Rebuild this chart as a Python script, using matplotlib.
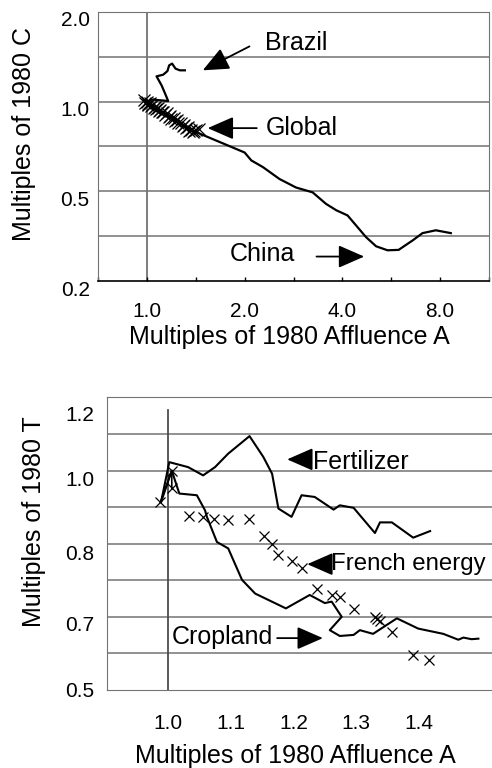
import numpy as np
import matplotlib
matplotlib.use('Agg')
import matplotlib.pyplot as plt
from matplotlib.transforms import ScaledTranslation

plt.rcParams['font.family'] = ['Liberation Sans', 'DejaVu Sans']

#%% Datos panel superior (carbono, C)
brasil_x = [1.0, 1.045, 1.163, 1.136, 1.11, 1.071, 1.123, 1.157, 1.171, 1.196, 1.225, 1.263, 1.309]
brasil_y = [1.0, 1.016, 1.005, 1.069, 1.134, 1.216, 1.232, 1.267, 1.324, 1.342, 1.291, 1.274, 1.274]

global_x = [0.98, 0.99, 1.0, 1.005, 1.01, 1.02, 1.03, 1.04, 1.05, 1.06, 1.07, 1.08, 1.09, 1.10,
            1.11, 1.12, 1.14, 1.15, 1.17, 1.18, 1.19, 1.21, 1.22, 1.24, 1.25, 1.27, 1.29, 1.30,
            1.32, 1.34, 1.35, 1.37, 1.39, 1.40, 1.42, 1.45]
global_y = [1.01, 0.99, 1.0, 0.975, 0.985, 0.99, 0.965, 0.975, 0.955, 0.96, 0.945, 0.95, 0.93, 0.94,
            0.92, 0.925, 0.905, 0.915, 0.89, 0.895, 0.875, 0.88, 0.86, 0.865, 0.845, 0.85, 0.83, 0.835,
            0.815, 0.82, 0.80, 0.805, 0.79, 0.80, 0.805, 0.81]

china_x = [1.0, 1.1, 1.2, 1.3, 1.455, 2.0, 2.097, 2.277, 2.561, 2.88, 3.24, 3.56, 3.83, 4.15,
           4.73, 5.08, 5.51, 5.96, 6.58, 7.06, 7.76, 8.63]
china_y = [1.0, 0.935, 0.875, 0.83, 0.781, 0.675, 0.635, 0.603, 0.55, 0.515, 0.496, 0.454, 0.432,
           0.415, 0.351, 0.327, 0.317, 0.318, 0.342, 0.362, 0.370, 0.362]

#%% Datos panel inferior (T)
fert_x = [0.989, 1.002, 1.032, 1.056, 1.075, 1.096, 1.130, 1.152, 1.166, 1.176, 1.197, 1.213,
          1.234, 1.264, 1.274, 1.296, 1.330, 1.338, 1.357, 1.391, 1.418]
fert_y = [0.906, 1.027, 1.011, 0.985, 1.011, 1.055, 1.115, 1.044, 0.990, 0.887, 0.864, 0.925,
          0.920, 0.884, 0.896, 0.889, 0.821, 0.849, 0.849, 0.809, 0.826]

crop_x = [0.989, 1.006, 1.018, 1.046, 1.059, 1.062, 1.078, 1.096, 1.118, 1.139, 1.188, 1.226,
          1.250, 1.261, 1.277, 1.258, 1.274, 1.296, 1.306, 1.327, 1.365, 1.399, 1.439, 1.463,
          1.471, 1.484, 1.495]
crop_y = [0.906, 1.0, 0.930, 0.925, 0.882, 0.864, 0.798, 0.782, 0.708, 0.678, 0.647, 0.675,
          0.658, 0.661, 0.630, 0.604, 0.593, 0.595, 0.604, 0.597, 0.627, 0.607, 0.597, 0.586,
          0.590, 0.587, 0.588]

fr_x = [0.988, 1.006, 1.006, 1.033, 1.056, 1.074, 1.095, 1.129, 1.153, 1.166, 1.175, 1.198,
        1.214, 1.237, 1.261, 1.274, 1.297, 1.330, 1.334, 1.338, 1.357, 1.390, 1.417]
fr_y = [0.906, 1.0, 0.945, 0.866, 0.864, 0.857, 0.855, 0.857, 0.813, 0.792, 0.767, 0.752,
        0.736, 0.687, 0.674, 0.670, 0.645, 0.630, 0.625, 0.622, 0.601, 0.559, 0.550]

#%% Ejes y etiquetas
x_ticks_sup = [2 ** (k / 2) for k in range(-1, 8)]
x_labels_sup = ['', '1.0', '', '2.0', '', '4.0', '', '8.0', '']
y_ticks_sup = [2, 1, 0.5, 0.25]
y_labels_sup = ['2.0', '1.0', '0.5', '0.2']

x_ticks_inf = [1.0, 1.1, 1.2, 1.3, 1.4]
x_labels_inf = ['1.0', '1.1', '1.2', '1.3', '1.4']
y_ticks_inf = [0.5, 0.617, 0.773, 0.976, 1.198]
y_labels_inf = ['0.5', '0.7', '0.8', '1.0', '1.2']

gris = '0.45'
letra = 18
fig = plt.figure(figsize=(4.92, 7.68), dpi=100)

#%% Panel superior
ax = fig.add_axes([0.1992, 0.6341, 0.7947, 0.3503])
ax.set_xscale('log', base=2)
ax.set_yscale('log', base=2)
ax.set_xlim(2 ** -0.5, 2 ** 3.5)
ax.set_ylim(0.25, 2)
for k in range(1, 6):
    ax.axhline(0.25 * 2 ** (k / 2), color=gris, lw=1.1, zorder=1)
ax.axvline(1.0, color=gris, lw=1.3, zorder=1)

ax.plot(china_x, china_y, color='k', lw=1.6, zorder=3)
ax.plot(brasil_x, brasil_y, color='k', lw=1.6, zorder=3)
ax.plot(global_x, global_y, 'x', color='k', ms=8, mew=0.9, zorder=4)

ax.set_xticks(x_ticks_sup)
ax.set_xticklabels(x_labels_sup)
ax.minorticks_off()
ax.tick_params(axis='x', direction='in', length=3, width=1, pad=15, labelsize=15, color='k')
ax.set_yticks(y_ticks_sup)
ax.set_yticklabels(y_labels_sup)
ax.tick_params(axis='y', length=0, pad=6, labelsize=15)
desplaza = ScaledTranslation(0, -0.07, fig.dpi_scale_trans)
for lab in ax.get_yticklabels():
    lab.set_transform(lab.get_transform() + desplaza)

ax.spines['left'].set_color(gris)
ax.spines['top'].set_color(gris)
ax.spines['right'].set_color(gris)
ax.spines['bottom'].set_color('k')
ax.spines['bottom'].set_linewidth(1.2)

ax.set_ylabel('Multiples of 1980 C', fontsize=letra)
ax.yaxis.set_label_coords(-0.158, 0.546)
ax.set_xlabel('Multiples of 1980 Affluence A', fontsize=letra)
ax.xaxis.set_label_coords(0.49, -0.162)

flecha = dict(arrowstyle='-|>,head_length=0.8,head_width=0.35', color='k', lw=1.3,
              mutation_scale=20, shrinkA=0, shrinkB=0)
ax.text(2.89, 1.569, 'Brazil', fontsize=letra, ha='center', va='center')
ax.annotate('', xy=(1.486, 1.274), xytext=(2.07, 1.533), arrowprops=flecha)
ax.text(2.99, 0.815, 'Global', fontsize=letra, ha='center', va='center')
ax.annotate('', xy=(1.539, 0.815), xytext=(2.18, 0.815), arrowprops=flecha)
ax.text(2.27, 0.307, 'China', fontsize=letra, ha='center', va='center')
ax.annotate('', xy=(4.67, 0.302), xytext=(3.33, 0.302), arrowprops=flecha)

#%% Panel inferior
ax2 = fig.add_axes([0.2175, 0.1016, 0.7825, 0.3809])
ax2.set_yscale('log', base=2)
ax2.set_xlim(0.9027, 1.5167)
ax2.set_ylim(0.5, 0.5 * 2 ** (8 / 6))
for k in range(1, 8):
    ax2.axhline(0.5 * 2 ** (k / 6), color=gris, lw=1.1, zorder=1)
ax2.axvline(1.0, ymax=0.956, color='0.3', lw=1.3, zorder=1)

ax2.plot(fert_x, fert_y, color='k', lw=1.5, zorder=3)
ax2.plot(crop_x, crop_y, color='k', lw=1.5, zorder=3)
ax2.plot(fr_x[:3], fr_y[:3], color='k', lw=1.2, zorder=3)
ax2.plot(fr_x, fr_y, 'x', color='k', ms=7, mew=0.9, zorder=4)

ax2.set_xticks(x_ticks_inf)
ax2.set_xticklabels(x_labels_inf)
ax2.minorticks_off()
ax2.set_yticks(y_ticks_inf)
ax2.set_yticklabels(y_labels_inf)
ax2.tick_params(axis='x', length=0, pad=17, labelsize=15)
ax2.tick_params(axis='y', length=0, pad=9, labelsize=15)
for lado in ['left', 'top', 'bottom']:
    ax2.spines[lado].set_color(gris)
ax2.spines['right'].set_visible(False)

ax2.set_ylabel('Multiples of 1980 T', fontsize=letra)
ax2.yaxis.set_label_coords(-0.158, 0.574)
ax2.set_xlabel('Multiples of 1980 Affluence A', fontsize=letra)
ax2.xaxis.set_label_coords(0.488, -0.183)

ax2.text(1.231, 1.027, 'Fertilizer', fontsize=letra, ha='left', va='center')
ax2.annotate('', xy=(1.190, 1.036), xytext=(1.222, 1.036), arrowprops=flecha)
ax2.text(1.26, 0.744, 'French energy', fontsize=17.3, ha='left', va='center')
ax2.annotate('', xy=(1.222, 0.744), xytext=(1.258, 0.744), arrowprops=flecha)
ax2.text(1.086, 0.591, 'Cropland', fontsize=letra, ha='center', va='center')
ax2.annotate('', xy=(1.247, 0.589), xytext=(1.174, 0.589), arrowprops=flecha)

plt.savefig('out.png', dpi=100)
